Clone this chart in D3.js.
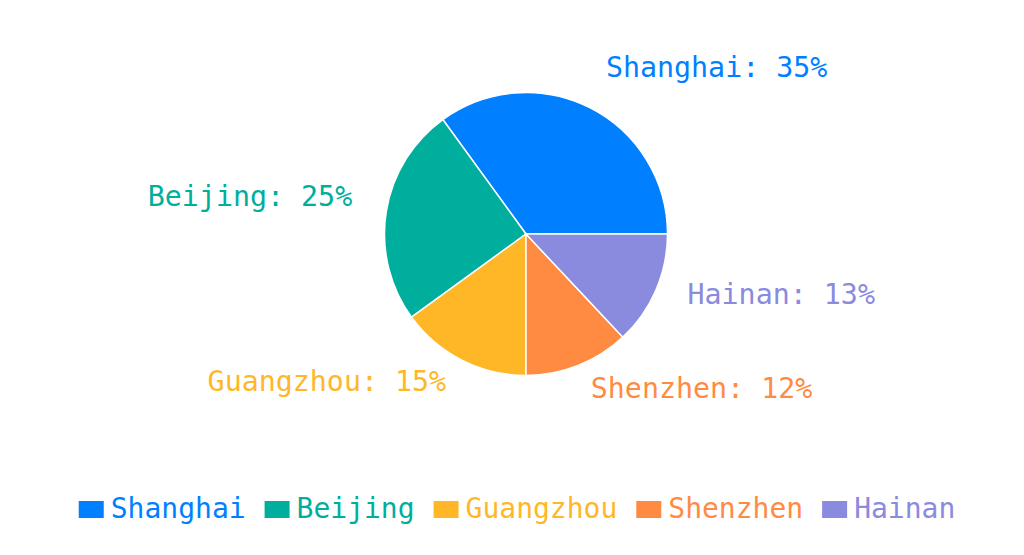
<!DOCTYPE html>
<html>
<head>
<meta charset="utf-8">
<script src="https://cdn.jsdelivr.net/npm/d3@7"></script>
<style>
  html, body { margin: 0; padding: 0; background: #fff; }
  svg { display: block; font-family: 'DejaVu Sans Mono', monospace; }
</style>
</head>
<body>
<svg id="chart" width="1024" height="555"></svg>
<script>
// data
const cities = ['Shanghai', 'Beijing', 'Guangzhou', 'Shenzhen', 'Hainan']
const shares = [35, 25, 15, 12, 13]
const colors = ['#0080ff', '#00ae9d', '#ffb727', '#ff8a42', '#8a8ade']

const width = 1024
const cx = 526
const cy = 234
const radius = 141.5
const labelRadius = 176
const labelSize = 28.3
const legendSize = 28

const svg = d3.select('#chart')
const color = d3.scaleOrdinal().domain(cities).range(colors)

const data = cities.map((c, i) => ({ city: c, value: shares[i] }))

// counterclockwise from 3 o'clock
const pie = d3
  .pie()
  .value((d) => d.value)
  .sort(null)
  .startAngle(Math.PI / 2)
  .endAngle(Math.PI / 2 - 2 * Math.PI)

const arc = d3.arc().innerRadius(0).outerRadius(radius)
const arcs = pie(data)

const g = svg.append('g').attr('transform', `translate(${cx},${cy})`)

g.selectAll('path')
  .data(arcs)
  .enter()
  .append('path')
  .attr('d', arc)
  .attr('fill', (d) => color(d.data.city))
  .attr('stroke', '#fff')
  .attr('stroke-width', 1.5)

// slice labels
g.selectAll('text.label')
  .data(arcs)
  .enter()
  .append('text')
  .attr('class', 'label')
  .each(function (d) {
    const a = (d.startAngle + d.endAngle) / 2
    const x = Math.sin(a) * labelRadius
    const y = -Math.cos(a) * labelRadius
    d3.select(this)
      .attr('x', x)
      .attr('y', y)
      .attr('text-anchor', x >= 0 ? 'start' : 'end')
  })
  .attr('font-size', labelSize)
  .attr('fill', (d) => color(d.data.city))
  .text((d) => `${d.data.city}: ${d.data.value}%`)

// legend
const charW = legendSize * 0.602
const boxW = 25
const boxH = 17
const textGap = 7
const itemGap = 19
const itemWidths = cities.map((c) => boxW + textGap + c.length * charW)
const total = d3.sum(itemWidths) + itemGap * (cities.length - 1)
let lx = 517 - total / 2
const legendY = 518

const legend = svg.append('g')
cities.forEach((c, i) => {
  const item = legend.append('g').attr('transform', `translate(${lx},0)`)
  item
    .append('rect')
    .attr('x', 0)
    .attr('y', legendY - boxH)
    .attr('width', boxW)
    .attr('height', boxH)
    .attr('fill', color(c))
  item
    .append('text')
    .attr('x', boxW + textGap)
    .attr('y', legendY)
    .attr('font-size', legendSize)
    .attr('fill', color(c))
    .text(c)
  lx += itemWidths[i] + itemGap
})
</script>
</body>
</html>
